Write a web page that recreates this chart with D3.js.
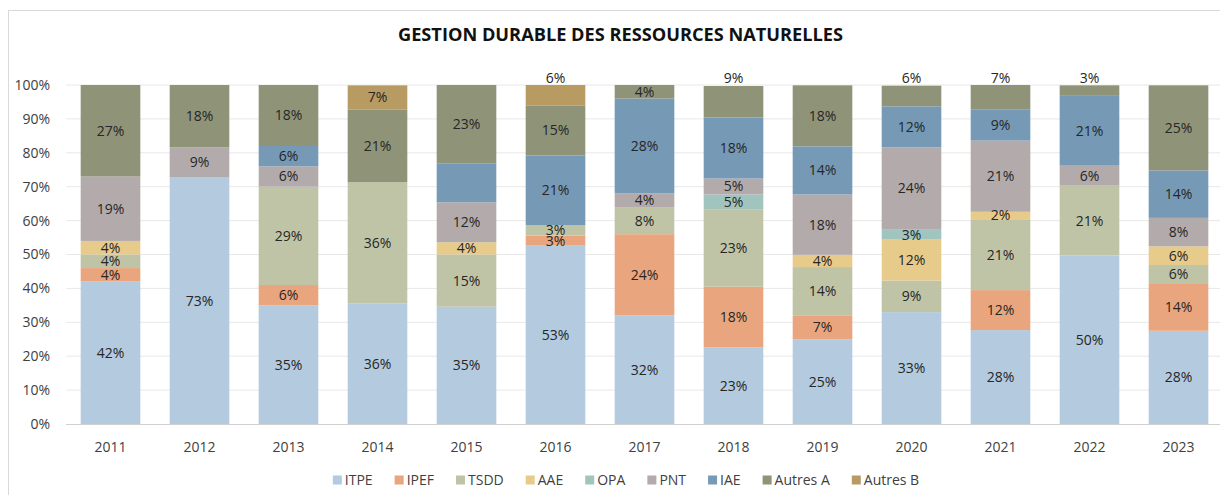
<!DOCTYPE html>
<html>
<head>
<meta charset="utf-8">
<script src="https://cdn.jsdelivr.net/npm/d3@7"></script>
<style>
  body { margin: 0; background: #fff; }
  svg { display: block; font-family: "Open Sans", sans-serif; }
</style>
</head>
<body>
<svg width="1220" height="495"></svg>
<script>
// values in %
const years = ["2011", "2012", "2013", "2014", "2015", "2016", "2017", "2018", "2019", "2020", "2021", "2022", "2023"];
const series = ["ITPE", "IPEF", "TSDD", "AAE", "OPA", "PNT", "IAE", "Autres A", "Autres B"];

const itpe    = [42, 72.7, 35, 35.6, 34.6, 52.6, 32, 22.6, 25, 33, 27.7, 49.7, 27.5];
const ipef    = [4, 0, 6, 0, 0, 3, 24, 17.9, 6.9, 0, 11.8, 0, 13.8];
const tsdd    = [4, 0, 29, 35.7, 15.4, 3.1, 8, 22.7, 14.4, 9.3, 20.9, 20.6, 5.6];
const aae     = [4, 0, 0, 0, 3.6, 0, 0, 0, 3.6, 12.1, 2.2, 0, 5.5];
const opa     = [0, 0, 0, 0, 0, 0, 0, 4.5, 0, 2.9, 0, 0, 0];
const pnt     = [19, 8.9, 6, 0, 11.8, 0, 4, 4.7, 17.8, 24.3, 21, 5.9, 8.4];
const iae     = [0, 0, 6, 0, 11.5, 20.5, 28, 18, 14.2, 12.1, 9.1, 20.6, 14];
const autresA = [27, 18.4, 18, 21.4, 23.1, 14.8, 4, 9.3, 18, 6.1, 7.3, 3.1, 25.1];
const autresB = [0, 0, 0, 7.2, 0, 6, 0, 0, 0, 0, 0, 0, 0];

const yTicks = [0, 10, 20, 30, 40, 50, 60, 70, 80, 90, 100];
const colors = ["#b3cadf", "#e9a67e", "#c0c4a6", "#e7cb8b", "#a1c5be", "#b3abab", "#7699b6", "#8f9378", "#b89b62"];

// labels that Excel put above the top of the bar, and one it left out
const labelAbove = ["2016", "2018", "2020", "2021", "2022"];
const noLabel = [["2015", "IAE"]];

const cols = [itpe, ipef, tsdd, aae, opa, pnt, iae, autresA, autresB];
const rows = years.map((yr, i) => {
  const r = {year: yr};
  series.forEach((s, j) => r[s] = cols[j][i]);
  return r;
});

const svg = d3.select("svg");
const W = 1220, H = 495;
const m = {left: 66, right: 1223, top: 85, bottom: 424};

// chart border
svg.append("rect")
  .attr("x", 8.5).attr("y", 10.5)
  .attr("width", W + 20).attr("height", H + 20)
  .attr("fill", "none").attr("stroke", "#d9d9d9");

svg.append("text")
  .attr("x", 620.5).attr("y", 41)
  .attr("text-anchor", "middle")
  .attr("font-size", 17).attr("font-weight", "bold")
  .attr("textLength", 445).attr("lengthAdjust", "spacingAndGlyphs")
  .attr("fill", "#111")
  .text("GESTION DURABLE DES RESSOURCES NATURELLES");

const x = d3.scaleBand().domain(years).range([m.left, m.right])
  .paddingInner(0.33).paddingOuter(0.165);
const y = d3.scaleLinear().domain([0, 100]).range([m.bottom, m.top]);

// grid
svg.append("g").selectAll("line")
  .data(yTicks.slice(1))
  .join("line")
  .attr("x1", m.left).attr("x2", W)
  .attr("y1", d => y(d)).attr("y2", d => y(d))
  .attr("stroke", "#e8e8e8");

const yAxis = svg.append("g")
  .attr("transform", `translate(${m.left - 16},0)`)
  .call(d3.axisLeft(y).tickValues(yTicks).tickFormat(d => d + "%").tickSize(0).tickPadding(0));
yAxis.select(".domain").remove();
yAxis.selectAll("text").attr("font-size", 14).attr("fill", "#404040").attr("font-family", "Open Sans");

const stack = d3.stack().keys(series)(rows);

const layer = svg.append("g").selectAll("g")
  .data(stack)
  .join("g")
  .attr("fill", (d, i) => colors[i]);

layer.selectAll("rect")
  .data(d => d.map(p => ({key: d.key, p})))
  .join("rect")
  .attr("x", d => x(d.p.data.year))
  .attr("width", x.bandwidth())
  .attr("y", d => y(Math.min(100, d.p[1])))
  .attr("height", d => Math.max(0, y(d.p[0]) - y(Math.min(100, d.p[1]))));

// x axis
const xAxis = svg.append("g")
  .attr("transform", `translate(0,${m.bottom})`)
  .call(d3.axisBottom(x).tickSize(0).tickPadding(18));
xAxis.select(".domain").remove();
xAxis.selectAll("text").attr("font-size", 14).attr("fill", "#404040").attr("font-family", "Open Sans");
svg.append("line")
  .attr("x1", m.left).attr("x2", W)
  .attr("y1", m.bottom + 0.5).attr("y2", m.bottom + 0.5)
  .attr("stroke", "#d0d0d0");

// data labels
const labels = [];
stack.forEach(s => s.forEach(p => {
  const v = p[1] - p[0];
  if (v <= 0) return;
  const yr = p.data.year;
  if (noLabel.some(n => n[0] === yr && n[1] === s.key)) return;
  const isTop = p[1] >= d3.max(stack, t => t.find(q => q.data.year === yr)[1]) - 0.01;
  const cy = (isTop && labelAbove.includes(yr)) ? y(100) - 7 : y((p[0] + Math.min(100, p[1])) / 2);
  labels.push({x: x(yr) + x.bandwidth() / 2, y: cy, t: Math.round(v) + "%"});
}));

svg.append("g").selectAll("text")
  .data(labels)
  .join("text")
  .attr("x", d => d.x).attr("y", d => d.y)
  .attr("dy", "0.35em")
  .attr("text-anchor", "middle")
  .attr("font-size", 14)
  .attr("fill", "#262626")
  .text(d => d.t);

// legend
const leg = svg.append("g").attr("transform", "translate(0,480)");
const items = leg.selectAll("g").data(series).join("g");
items.append("rect")
  .attr("y", -4.5).attr("width", 9).attr("height", 9)
  .attr("fill", (d, i) => colors[i]);
items.append("text")
  .attr("x", 12).attr("dy", "0.35em")
  .attr("font-size", 14).attr("fill", "#404040")
  .text(d => d);
let cx = 0;
items.each(function() {
  d3.select(this).attr("transform", `translate(${cx},0)`);
  cx += 12 + d3.select(this).select("text").node().getComputedTextLength() + 22;
});
const total = cx - 22;
leg.attr("transform", `translate(${626 - total / 2},480)`);
</script>
</body>
</html>
